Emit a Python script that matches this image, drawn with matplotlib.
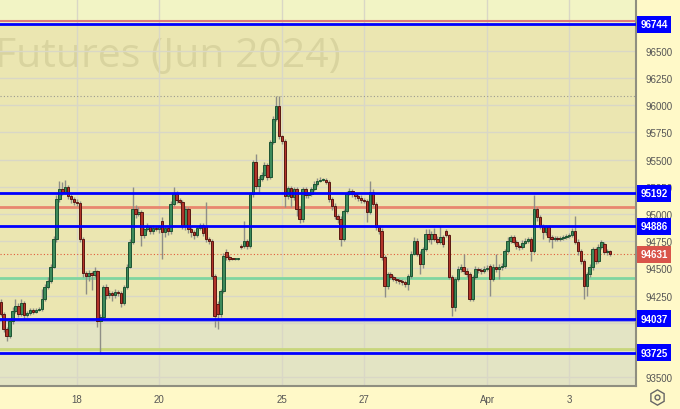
import matplotlib
matplotlib.use("Agg")
import matplotlib.pyplot as plt
import matplotlib.transforms as mtransforms
from matplotlib.lines import Line2D
import numpy as np

# hourly candles, Si-6.24 style futures (14 bars per session)
opens = [
    94190, 94080, 93945, 93880, 94015, 94110, 94155, 94080, 94185, 94075, 94090, 94120, 94100, 94120,
    94130, 94220, 94330, 94385, 94515, 94770, 95140, 95230, 95200, 95250, 95165, 95140,
    95110, 95100, 94770, 94460, 94430, 94460, 94440, 94475, 94015, 94055, 94330, 94255, 94275, 94255,
    94285, 94275, 94185, 94330, 94515, 94745, 95045, 95000, 95020, 94810, 94860, 94880, 94845, 94870,
    94860, 94935, 94835, 94870, 94845, 95090, 95185, 95130, 95110, 94890, 95045, 94860, 94835, 94810,
    94870, 94900, 94890, 94770, 94750, 94430, 94175, 94080, 94295, 94650, 94605, 94590, 94585, 94590,
    94705, 94705, 94750, 94705, 95185, 95480, 95260, 95320, 95360, 95450, 95340, 95660, 95875, 95990,
    95715, 95670, 95165, 95240, 95155, 95230, 95045, 94955, 95230, 95175, 95185, 95230, 95275, 95305,
    95315, 95315, 95295, 95140, 95075, 94980, 94955, 94770, 95030, 95185, 95210, 95185, 95165, 95145,
    95130, 95120, 95020, 95200, 95090, 94880, 94845, 94605, 94340, 94450, 94420, 94405, 94395, 94385,
    94375, 94355, 94430, 94635, 94750, 94635, 94540, 94680, 94815, 94770, 94815, 94770, 94745, 94790,
    94845, 94805, 94420, 94145, 94405, 94495, 94515, 94475, 94450, 94220, 94420, 94495, 94485, 94475,
    94495, 94525, 94405, 94515, 94495, 94515, 94525, 94660, 94750, 94790, 94745, 94705, 94695, 94735,
    94750, 94770, 94660, 95045, 94975, 94890, 94835, 94880, 94790, 94770, 94780, 94770, 94780, 94790,
    94800, 94810, 94845, 94745, 94660, 94570, 94340, 94450, 94515, 94680, 94570, 94700, 94725, 94650, 94660,
]
closes = [
    94080, 93945, 93880, 94015, 94110, 94155, 94080, 94185, 94075, 94090, 94120, 94100, 94120, 94130,
    94220, 94330, 94385, 94515, 94770, 95140, 95230, 95200, 95250, 95165, 95140, 95110,
    95100, 94770, 94460, 94430, 94460, 94440, 94475, 94015, 94055, 94330, 94255, 94275, 94255, 94285,
    94275, 94185, 94330, 94515, 94745, 95045, 95000, 95020, 94810, 94860, 94880, 94845, 94870, 94860,
    94880, 94835, 94870, 94845, 95090, 95185, 95130, 95110, 94890, 95045, 94860, 94835, 94810, 94870,
    94900, 94825, 94770, 94750, 94430, 94065, 94080, 94295, 94615, 94605, 94590, 94585, 94590, 94590,
    94700, 94750, 94705, 95185, 95480, 95260, 95320, 95360, 95450, 95340, 95660, 95875, 95990, 95715,
    95670, 95165, 95240, 95155, 95230, 95045, 94955, 95230, 95175, 95185, 95230, 95275, 95305, 95315,
    95315, 95295, 95140, 95075, 94980, 94955, 94770, 95030, 95185, 95210, 95185, 95165, 95145, 95130,
    95120, 95020, 95200, 95090, 94880, 94845, 94605, 94340, 94450, 94420, 94405, 94395, 94385, 94375,
    94355, 94430, 94635, 94750, 94635, 94540, 94680, 94815, 94770, 94815, 94770, 94745, 94790, 94725,
    94805, 94420, 94145, 94405, 94495, 94515, 94475, 94450, 94220, 94420, 94495, 94485, 94475, 94495,
    94505, 94405, 94515, 94495, 94515, 94525, 94660, 94750, 94790, 94745, 94705, 94695, 94735, 94750,
    94770, 94660, 95045, 94975, 94890, 94835, 94880, 94790, 94770, 94780, 94770, 94780, 94790, 94800,
    94810, 94845, 94745, 94660, 94570, 94340, 94450, 94515, 94680, 94570, 94700, 94745, 94650, 94660, 94631,
]
highs = [
    94215, 94100, 93960, 94035, 94150, 94220, 94180, 94220, 94200, 94110, 94140, 94135, 94140, 94150,
    94310, 94360, 94420, 94540, 94800, 95170, 95300, 95290, 95310, 95270, 95180, 95160,
    95140, 95120, 94790, 94480, 94490, 94480, 94510, 94490, 94080, 94350, 94360, 94300, 94290, 94310,
    94300, 94290, 94350, 94540, 94770, 95250, 95080, 95060, 95040, 94890, 94920, 94900, 94900, 94890,
    94900, 94970, 94900, 94890, 95120, 95250, 95210, 95150, 95130, 95070, 95060, 94880, 94850, 94890,
    94920, 94920, 95110, 94790, 94770, 94450, 94200, 94310, 94640, 94680, 94620, 94600, 94600, 94600,
    94720, 94935, 94770, 95200, 95500, 95550, 95345, 95390, 95480, 95470, 95680, 95900, 96085, 96080,
    95730, 95690, 95260, 95260, 95250, 95250, 95060, 95250, 95250, 95200, 95250, 95300, 95330, 95340,
    95330, 95330, 95310, 95160, 95100, 95000, 94980, 95050, 95210, 95240, 95230, 95200, 95180, 95170,
    95150, 95140, 95305, 95230, 95110, 94900, 94870, 94620, 94470, 94470, 94440, 94420, 94410, 94400,
    94390, 94450, 94660, 94790, 94780, 94660, 94700, 94860, 94860, 94840, 94870, 94800, 94890, 94810,
    94860, 94820, 94440, 94420, 94520, 94540, 94630, 94500, 94470, 94440, 94520, 94510, 94500, 94520,
    94530, 94540, 94540, 94630, 94540, 94550, 94680, 94790, 94810, 94810, 94760, 94720, 94760, 94780,
    94790, 94790, 95175, 95060, 94990, 94910, 94900, 94900, 94810, 94800, 94800, 94800, 94810, 94820,
    94830, 94870, 94980, 94770, 94680, 94590, 94470, 94540, 94700, 94700, 94720, 94760, 94740, 94680, 94670,
]
lows = [
    94060, 93920, 93835, 93860, 93990, 94090, 94050, 94060, 94030, 94050, 94070, 94085, 94090, 94105,
    94110, 94200, 94310, 94370, 94500, 94740, 95110, 95170, 95180, 95140, 95100, 95080,
    95070, 94740, 94420, 94265, 94380, 94300, 94420, 93960, 93715, 94030, 94220, 94230, 94200, 94230,
    94250, 94145, 94160, 94310, 94500, 94720, 94960, 94980, 94705, 94780, 94840, 94820, 94820, 94840,
    94830, 94590, 94790, 94810, 94820, 95070, 95100, 95090, 94860, 94850, 94830, 94790, 94770, 94790,
    94850, 94800, 94740, 94720, 94400, 93960, 93945, 94050, 94270, 94580, 94570, 94575, 94575, 94580,
    94680, 94690, 94680, 94690, 95160, 95230, 95200, 95300, 95340, 95310, 95320, 95640, 95850, 95690,
    95640, 95060, 95140, 95060, 95130, 94980, 94920, 94930, 95150, 95150, 95165, 95210, 95260, 95290,
    95300, 95280, 95110, 95040, 94950, 94920, 94705, 94750, 95010, 95170, 95160, 95140, 95120, 95100,
    95100, 94930, 95000, 95070, 94850, 94820, 94580, 94240, 94310, 94400, 94380, 94370, 94360, 94350,
    94330, 94300, 94410, 94620, 94610, 94450, 94500, 94660, 94740, 94720, 94750, 94720, 94720, 94700,
    94790, 94400, 94060, 94110, 94380, 94470, 94450, 94420, 94200, 94200, 94400, 94460, 94450, 94460,
    94480, 94245, 94380, 94470, 94400, 94490, 94500, 94640, 94730, 94720, 94680, 94670, 94680, 94720,
    94730, 94570, 94640, 94940, 94860, 94770, 94810, 94740, 94690, 94750, 94750, 94750, 94760, 94770,
    94780, 94790, 94720, 94620, 94540, 94220, 94250, 94420, 94490, 94540, 94550, 94680, 94630, 94620, 94610,
]

# session starts (bar index) and their labels
day_pos = [26, 54, 96, 124, 166, 194]
day_labels = ["18", "20", "25", "27", "Apr", "3"]

# levels
blue_levels = [96744, 95192, 94886, 94037, 93725]
last_price = 94631
red_levels = [96777, 95065]
green_level = 94415
lavender_level = 94017
olive_level = 93760
dotted_level = 96084

W, H = 680, 410
fig = plt.figure(figsize=(W / 100, H / 100), dpi=100, facecolor="#fff9c8")
ax = fig.add_axes([0, 23 / H, 636 / W, 387 / H])
ax.set_facecolor("#ebe6b1")
ax.set_xlim(-0.27, 216.8)
ax.set_ylim(93420, 96975)
trans = mtransforms.blended_transform_factory(ax.transAxes, ax.transData)

# zones
ax.axhspan(96744, 97500, color="#f2f4c5", lw=0, zorder=0)
ax.axhspan(93000, 94037, color="#e3e4c4", lw=0, zorder=0)

# watermark
ax.text(-5 / 636, 96362, "Futures (Jun 2024)", fontsize=29.5, family="Open Sans",
        color="#d9d49f", ha="left", va="baseline", transform=trans, zorder=0.5)

yticks = np.arange(93500, 96750, 250)
for yt in yticks:
    ax.axhline(yt, color="#d9d7c6", lw=1, zorder=0.7)
for xp in day_pos:
    ax.axvline(xp, color="#d9d7c6", lw=1, zorder=0.7)

# secondary levels under candles
ax.axhline(red_levels[0], color="#e07a7a", lw=1.5, zorder=2)
ax.axhline(red_levels[1], color="#e8866e", lw=2, zorder=2)
ax.axhline(green_level, color="#80d6a0", lw=2, zorder=2)
ax.axhline(lavender_level, color="#9a9ad8", lw=1.5, zorder=2)
ax.axhline(olive_level, color="#c8d67c", lw=2, zorder=2)
ax.axhline(dotted_level, color="#9a9a90", lw=0.8, ls=(0, (1, 2)), zorder=2)
ax.axhline(last_price, color="#e05a3a", lw=0.8, ls=(0, (1, 2)), zorder=2)

# candles
o = np.array(opens, dtype=float)
c = np.array(closes, dtype=float)
hi = np.array(highs, dtype=float)
lo = np.array(lows, dtype=float)
idx = np.arange(len(c))
up = c >= o
ax.vlines(idx, lo, hi, color="#8e8e86", lw=1, zorder=3)
bottom = np.minimum(o, c)
height = np.maximum(np.abs(c - o), 10)
ax.bar(idx[up], height[up], bottom=bottom[up], width=0.85, color="#3d8a5a",
       edgecolor="#1d5533", lw=0.7, zorder=4)
ax.bar(idx[~up], height[~up], bottom=bottom[~up], width=0.85, color="#b3342a",
       edgecolor="#5a1812", lw=0.7, zorder=4)

for lv in blue_levels:
    ax.axhline(lv, color="#0000ff", lw=2, zorder=5)

# axes styling
for s in ["top", "left"]:
    ax.spines[s].set_visible(False)
for s in ["right", "bottom"]:
    ax.spines[s].set_color("#8f8f80")
    ax.spines[s].set_linewidth(1.5)

# scale labels hidden behind the level tags in the original are left out
shown = [v for v in yticks if v not in (93750, 94000)]
ax.yaxis.tick_right()
ax.set_yticks(shown)
ax.set_yticklabels([str(v) for v in shown], family="Liberation Sans")
ax.tick_params(axis="y", length=0, pad=7, labelsize=7, labelcolor="#555555")
ax.set_xticks(day_pos)
ax.set_xticklabels(day_labels, family="Liberation Sans")
ax.tick_params(axis="x", length=0, pad=6, labelsize=7, labelcolor="#555555")

# price tags on the scale
for lv in blue_levels:
    ax.text(1.0065, lv, str(lv), transform=trans, ha="left", va="center", fontsize=7,
            fontweight="bold", color="white", family="Liberation Sans", clip_on=False, zorder=10,
            bbox=dict(boxstyle="square,pad=0.35", fc="#0000ff", ec="none"))
ax.text(1.0065, last_price, str(last_price), transform=trans, ha="left", va="center", fontsize=7,
        fontweight="bold", color="white", family="Liberation Sans", clip_on=False, zorder=10,
        bbox=dict(boxstyle="square,pad=0.35", fc="#d9544a", ec="none"))

# settings icon
fig.add_artist(Line2D([657 / W], [1 - 398 / H], marker="h", ms=11, mfc="none", mec="#666666", mew=1))
fig.add_artist(Line2D([657 / W], [1 - 398 / H], marker="o", ms=3.5, mfc="none", mec="#666666", mew=1))

fig.savefig("out.png", dpi=100, facecolor=fig.get_facecolor())
